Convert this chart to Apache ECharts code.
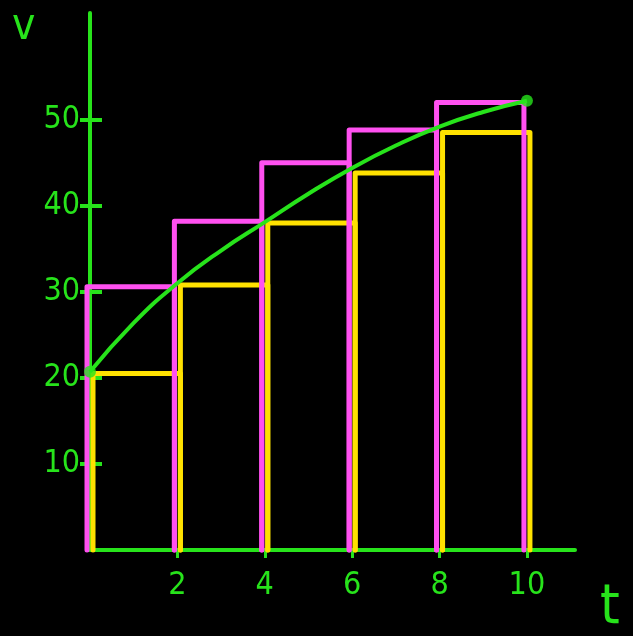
<!DOCTYPE html>
<html>
<head>
<meta charset="utf-8">
<script src="https://cdn.jsdelivr.net/npm/echarts@6/dist/echarts.min.js"></script>
<style>
  html, body { margin: 0; padding: 0; background: #000; }
  #chart { width: 633px; height: 636px; }
</style>
</head>
<body>
<div id="chart"></div>
<script>
// rectangle starts (t) and heights
const tStarts = [0, 2, 4, 6, 8];
const leftHeights = [20.5, 30.8, 38.0, 43.8, 48.5];   // yellow, left endpoints
const rightHeights = [30.6, 38.2, 45.0, 48.8, 52.0];  // magenta, right endpoints

// the green v(t) curve
const curveT = [0, 1, 2, 3, 4, 5, 6, 7, 8, 9, 10];
const curveV = [20.7, 26.4, 31.0, 34.8, 38.1, 41.4, 44.4, 47.0, 49.2, 50.9, 52.2];

const xTicks = [2, 4, 6, 8, 10];
const yTicks = [10, 20, 30, 40, 50];

const GREEN = '#27e31b';
const PINK = '#ff50f0';
const YELLOW = '#ffe100';
const FONT = "'Liberation Sans Narrow', 'DejaVu Sans Condensed', sans-serif";

function rectRenderer(color, dx) {
  return function (params, api) {
    const t0 = api.value(0), t1 = api.value(1), h = api.value(2);
    const a = api.coord([t0, 0]);
    const b = api.coord([t0, h]);
    const c = api.coord([t1, h]);
    const d = api.coord([t1, 0]);
    return {
      type: 'polyline',
      shape: { points: [[a[0] + dx, a[1]], [b[0] + dx, b[1]], [c[0] + dx, c[1]], [d[0] + dx, d[1]]] },
      style: { stroke: color, lineWidth: 5, fill: null, lineJoin: 'round', lineCap: 'round' }
    };
  };
}

let chart = echarts.init(document.getElementById('chart'));
let chart_options = {
  backgroundColor: '#000',
  animation: false,
  grid: { left: 90, right: 58, top: 13, bottom: 86 },
  xAxis: {
    type: 'value',
    min: 0,
    max: 11.1,
    interval: 2,
    splitLine: { show: false },
    axisLine: { lineStyle: { color: GREEN, width: 4, cap: 'round' } },
    axisTick: { show: true, length: 8, customValues: xTicks, lineStyle: { color: GREEN, width: 3 } },
    axisLabel: { customValues: xTicks, color: GREEN, fontSize: 32, fontFamily: FONT, margin: 20 }
  },
  yAxis: [{
    type: 'value',
    min: 0,
    max: 62.4,
    interval: 10,
    splitLine: { show: false },
    axisLine: { show: true, lineStyle: { color: GREEN, width: 4, cap: 'round' } },
    axisTick: { show: true, length: 10, customValues: yTicks, lineStyle: { color: GREEN, width: 4 } },
    axisLabel: { customValues: yTicks, color: GREEN, fontSize: 32, fontFamily: FONT, margin: 10 }
  }, {
    type: 'value',
    position: 'left',
    min: 0,
    max: 62.4,
    interval: 10,
    splitLine: { show: false },
    axisLine: { show: false },
    axisTick: { show: true, inside: true, length: 12, customValues: yTicks, lineStyle: { color: GREEN, width: 4 } },
    axisLabel: { show: false }
  }],
  graphic: [
    { type: 'text', left: 12, top: 6, style: { text: 'v', fill: GREEN, font: '44px ' + FONT } },
    { type: 'text', left: 600, top: 580, style: { text: 't', fill: GREEN, font: '56px ' + FONT } }
  ],
  series: [{
    name: 'left',
    type: 'custom',
    clip: false,
    renderItem: rectRenderer(YELLOW, 3),
    data: tStarts.map((t, i) => [t, t + 2, leftHeights[i]]),
    z: 2
  }, {
    name: 'right',
    type: 'custom',
    clip: false,
    renderItem: rectRenderer(PINK, -3),
    data: tStarts.map((t, i) => [t, t + 2, rightHeights[i]]),
    z: 3
  }, {
    name: 'v(t)',
    type: 'line',
    smooth: true,
    showSymbol: false,
    lineStyle: { color: GREEN, width: 4 },
    data: curveT.map((t, i) => [t, curveV[i]]),
    z: 4
  }, {
    name: 'ends',
    type: 'scatter',
    symbolSize: 12,
    itemStyle: { color: GREEN },
    data: [[curveT[0], curveV[0]], [curveT[curveT.length - 1], curveV[curveV.length - 1]]],
    z: 5
  }]
};
chart.setOption(chart_options);
</script>
</body>
</html>
